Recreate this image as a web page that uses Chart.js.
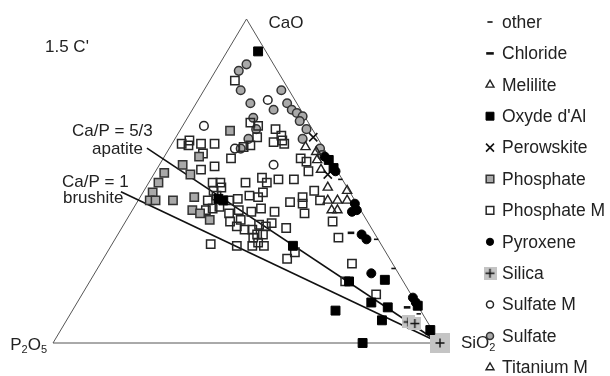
<!DOCTYPE html>
<html>
<head>
<meta charset="utf-8">
<script src="https://cdn.jsdelivr.net/npm/chart.js@4.4.1/dist/chart.umd.min.js"></script>
<style>
  html, body { margin: 0; padding: 0; background: #fff; }
  #wrap { width: 610px; height: 376px; }
</style>
</head>
<body>
<div id="wrap"><canvas id="chart" width="610" height="376"></canvas></div>
<script>
// ===============================
// DATA  -- every point is [CaO %, SiO2 %], P2O5 is the rest
// ===============================
const vertices = [[0, 0], [0, 100], [100, 0]];   // P2O5, SiO2, CaO corners
const caPRatios = [5 / 3, 1];                      // apatite, brushite

const otherPts = [[32, 67.5], [23, 76.5], [9, 90], [50.5, 49]];
const chloridePts = [[34, 60], [11, 86]];
const melilitePts = [[60.5, 35], [59, 38.5], [56.5, 40], [48, 47], [47, 52.5], [44, 51.5]];
const oxydePts = [[90, 8], [44.5, 20.5], [44, 22], [30, 47], [19, 67], [19.5, 76], [12.5, 76],
  [11, 81], [7, 81.5], [10, 68], [0, 80], [11.5, 88.5], [4, 95.5], [56.5, 43], [54, 45.5]];
const perowskitePts = [[63.5, 35.5], [52, 45]];
const phosphatePts = [[65.5, 13], [57.5, 9], [55, 6], [52.5, 2.5], [49.5, 2.5], [52, 9.5],
  [46.5, 2.5], [44, 3], [44, 4.5], [44, 9], [45, 14], [41, 15.5], [40, 18], [38, 21.5]];
const phosphateMPts = [[81, 6.5], [68, 17], [67, 19.5], [66, 24.5], [63.5, 21], [64, 27],
  [62, 26], [61.5, 29], [62.5, 28], [60.5, 19], [61, 20.5], [61.5, 2.5], [62.5, 4], [61, 4.5],
  [61.5, 7.5], [61.5, 11], [58.5, 9.5], [57, 17.5], [53.5, 11.5], [54.5, 14.5], [49.5, 25],
  [51, 28.5], [49.5, 30.5], [50.5, 33], [50.5, 37], [49.5, 16.5], [49.5, 18.5], [47, 18],
  [48, 19.5], [45.5, 19.5], [44, 18], [44.5, 25.5], [45.5, 28], [45, 30.5], [46.5, 31],
  [44, 23.5], [41, 19], [41.5, 20.5], [42, 22], [40, 25.5], [41, 27.5], [40.5, 31], [41.5, 33],
  [40.5, 37], [37.5, 27], [38, 29.5], [36, 29.5], [35, 32], [35, 34], [36.5, 35], [36, 37],
  [32.5, 35.5], [33.5, 36], [33.5, 37.5], [30, 36.5], [31, 37.5], [30, 39.5], [35.5, 42.5],
  [30.5, 25.5], [30, 32.5], [28, 48.5], [26, 47.5], [43.5, 39.5], [43, 43], [40, 45], [57, 35.5],
  [56, 37.5], [53, 39.5], [45, 42], [47, 44], [44, 47], [37.5, 53.5], [32.5, 57.5], [24.5, 65],
  [19, 66], [15, 76], [37, 38]];
const pyroxenePts = [[43, 56.5], [41, 58], [40.5, 57], [33.5, 63], [32, 65], [21.5, 71.5],
  [14, 86], [12.5, 87.5], [57.5, 41.5], [53, 46.5]];
const silicaPts = [[6.5, 88.5], [6, 90.5], [0, 100]];
const sulfateMPts = [[75, 18], [67, 5.5], [55, 29.5], [60, 17]];
const sulfatePts = [[86, 7], [84, 6], [78, 9.5], [78, 20], [74, 14], [72, 21], [74, 23.5],
  [72, 25.7], [71, 27.5], [70, 29.5], [68.5, 29.5], [69.5, 17], [66, 32.5], [63, 33], [60, 39],
  [58, 40.5], [63, 19], [60, 18.5], [66, 19.5]];
const titaniumMPts = [[44, 49], [44, 54], [41, 53], [41, 51.5], [53.5, 42.5]];

// ===============================
// HELPERS
// ===============================
const FONT = "'Liberation Sans', Arial, Helvetica, sans-serif";
const GRAY = "#a9a9a9";
const NONE = "rgba(0,0,0,0)";

// ternary -> cartesian (x across base, y = CaO fraction)
function tern(p) {
  return { x: (p[1] + p[0] / 2) / 100, y: p[0] / 100 };
}

// CaO wt% on the CaO-P2O5 side for a molar Ca/P ratio
function caOForRatio(r) {
  const m = 2 * r * 56.08 / 141.94;
  return 100 * m / (1 + m);
}

function silicaMark(size) {
  const c = document.createElement("canvas");
  c.width = c.height = size;
  const g = c.getContext("2d");
  g.fillStyle = "#c4c4c4";
  g.fillRect(0, 0, size, size);
  g.strokeStyle = "#111";
  g.lineWidth = 1.4;
  const a = size / 2, h = Math.min(4.5, size / 2 - 2);
  g.beginPath();
  g.moveTo(a - h, a); g.lineTo(a + h, a);
  g.moveTo(a, a - h); g.lineTo(a, a + h);
  g.stroke();
  return c;
}
const silicaSmall = silicaMark(13);
const silicaBig = silicaMark(20);

// ===============================
// SERIES
// ===============================
const series = [
  { label: "other", data: otherPts, style: "line", r: 2.2, bw: 1.6, bg: NONE, fg: "#111", lr: 2.6 },
  { label: "Chloride", data: chloridePts, style: "line", r: 3.3, bw: 2.6, bg: NONE, fg: "#111", lr: 3.8 },
  { label: "Melilite", data: melilitePts, style: "triangle", r: 5.3, bw: 1.4, bg: NONE, fg: "#222", lr: 4.6 },
  { label: "Oxyde d'Al", data: oxydePts, style: "rect", r: 6.3, bw: 1, bg: "#000", fg: "#000", lr: 5.6 },
  { label: "Perowskite", data: perowskitePts, style: "crossRot", r: 5.8, bw: 1.6, bg: NONE, fg: "#111", lr: 5.6 },
  { label: "Phosphate", data: phosphatePts, style: "rect", r: 5.9, bw: 1.5, bg: GRAY, fg: "#333", lr: 5.4 },
  { label: "Phosphate M", data: phosphateMPts, style: "rect", r: 5.9, bw: 1.5, bg: NONE, fg: "#262626", lr: 5.4 },
  { label: "Pyroxene", data: pyroxenePts, style: "circle", r: 4.5, bw: 1, bg: "#000", fg: "#000", lr: 3.6 },
  { label: "Silica", data: silicaPts, style: [silicaSmall, silicaSmall, silicaBig], r: 6, bw: 1, bg: NONE, fg: "#111", lr: 6 },
  { label: "Sulfate M", data: sulfateMPts, style: "circle", r: 4.3, bw: 1.5, bg: NONE, fg: "#262626", lr: 3.5 },
  { label: "Sulfate", data: sulfatePts, style: "circle", r: 4.3, bw: 1.5, bg: GRAY, fg: "#333", lr: 3.5 },
  { label: "Titanium M", data: titaniumMPts, style: "triangle", r: 5.3, bw: 1.4, bg: NONE, fg: "#222", lr: 4.6 }
];

const pointSets = series.map(s => ({
  label: s.label,
  data: s.data.map(tern),
  pointStyle: s.style,
  pointRadius: s.r,
  pointBorderWidth: s.bw,
  pointBackgroundColor: s.bg,
  pointBorderColor: s.fg,
  showLine: false,
  clip: false,
  order: 1
}));

// triangle frame
const frame = {
  label: "frame",
  data: [vertices[0], vertices[1], vertices[2], vertices[0]].map(tern),
  showLine: true,
  borderColor: "#555",
  borderWidth: 1,
  pointRadius: 0,
  clip: false,
  order: 5
};

// Ca/P lines from SiO2 through the CaO-P2O5 side, a bit past it
const ratioLines = caPRatios.map(r => {
  const c = caOForRatio(r), k = 1.058;
  return {
    label: "Ca/P " + r,
    data: [vertices[1], [c * k, 100 - 100 * k]].map(tern),
    showLine: true,
    borderColor: "#111",
    borderWidth: 1.6,
    pointRadius: 0,
    clip: false,
    order: 4
  };
});

// ===============================
// TEXT + LEGEND PLUGIN
// ===============================
function chem(ctx, parts, x, y) {
  parts.forEach(([t, sub]) => {
    ctx.font = (sub ? "11px " : "17px ") + FONT;
    ctx.fillText(t, x, sub ? y + 5 : y);
    x += ctx.measureText(t).width;
  });
  return x;
}
function chemWidth(ctx, parts) {
  let w = 0;
  parts.forEach(([t, sub]) => {
    ctx.font = (sub ? "11px " : "17px ") + FONT;
    w += ctx.measureText(t).width;
  });
  return w;
}

const overlay = {
  id: "overlay",
  afterDraw(chart) {
    const ctx = chart.ctx;
    const xs = chart.scales.x, ys = chart.scales.y;
    const px = p => { const t = tern(p); return [xs.getPixelForValue(t.x), ys.getPixelForValue(t.y)]; };
    const [pX, pY] = px(vertices[0]);
    const [sX, sY] = px(vertices[1]);
    const [cX, cY] = px(vertices[2]);

    ctx.save();
    ctx.fillStyle = "#222";
    ctx.textBaseline = "middle";
    ctx.textAlign = "left";

    chem(ctx, [["CaO", 0]], cX + 22, cY + 4);
    const p2o5 = [["P", 0], ["2", 1], ["O", 0], ["5", 1]];
    chem(ctx, p2o5, pX - 6 - chemWidth(ctx, p2o5), pY + 2);
    chem(ctx, [["SiO", 0], ["2", 1]], sX + 21, sY);

    ctx.font = "17px " + FONT;
    ctx.fillText("1.5 C'", 45, 47);
    ctx.fillText("Ca/P = 5/3", 72, 131);
    ctx.fillText("apatite", 92, 149);
    ctx.fillText("Ca/P = 1", 62, 182);
    ctx.fillText("brushite", 63, 198);

    // legend
    const top = 22, step = 31.4, markX = 490, textX = 502;
    series.forEach((s, i) => {
      const y = top + i * step;
      ctx.fillStyle = s.bg;
      ctx.strokeStyle = s.fg;
      ctx.lineWidth = s.bw;
      const style = Array.isArray(s.style) ? s.style[0] : s.style;
      Chart.helpers.drawPoint(ctx, { pointStyle: style, radius: s.lr, rotation: 0, borderWidth: s.bw }, markX, y);
      ctx.fillStyle = "#222";
      ctx.font = "17.5px " + FONT;
      ctx.fillText(s.label, textX, y + 1);
    });
    ctx.restore();
  }
};

// ===============================
// CHART
// ===============================
new Chart(document.getElementById("chart"), {
  type: "scatter",
  data: { datasets: [...pointSets, ...ratioLines, frame] },
  options: {
    responsive: false,
    animation: false,
    events: [],
    layout: { padding: { left: 53, right: 170, top: 19, bottom: 33 } },
    scales: {
      x: { type: "linear", min: 0, max: 1, display: false },
      y: { type: "linear", min: 0, max: 1, display: false }
    },
    plugins: { legend: { display: false }, tooltip: { enabled: false } }
  },
  plugins: [overlay]
});
</script>
</body>
</html>
